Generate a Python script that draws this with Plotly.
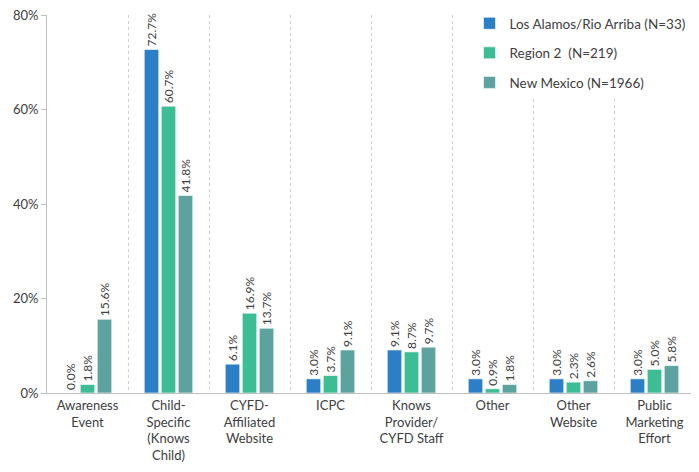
import plotly.graph_objects as go

categories = ["Awareness<br>Event", "Child-<br>Specific<br>(Knows<br>Child)", "CYFD-<br>Affiliated<br>Website",
              "ICPC", "Knows<br>Provider/<br>CYFD Staff", "Other", "Other<br>Website",
              "Public<br>Marketing<br>Effort"]
los_alamos = [0.0, 72.7, 6.1, 3.0, 9.1, 3.0, 3.0, 3.0]
region2 = [1.8, 60.7, 16.9, 3.7, 8.7, 0.9, 2.3, 5.0]
new_mexico = [15.6, 41.8, 13.7, 9.1, 9.7, 1.8, 2.6, 5.8]

series = [
    ("Los Alamos/Rio Arriba (N=33)", los_alamos, "#2a7fc7"),
    ("Region 2  (N=219)", region2, "#3dbd93"),
    ("New Mexico (N=1966)", new_mexico, "#5ca39f"),
]

fig = go.Figure()
for name, vals, color in series:
    fig.add_trace(go.Bar(
        x=categories, y=[v / 100 for v in vals], name=name, legendgroup=name,
        marker=dict(color=color, line=dict(color="rgba(255,255,255,0.6)", width=1)),
        text=[f"{v:.1f}%" for v in vals], textposition="outside",
        textangle=-90, textfont=dict(size=12, color="#404040"),
        cliponaxis=False,
    ))

# the page body has an 8px margin, so the figure is a bit smaller than the window
fig.update_layout(
    width=691, height=464,
    margin=dict(l=39, r=4, t=7, b=79, autoexpand=False),
    font=dict(family="Lato, Open Sans, sans-serif", size=13, color="#404040"),
    plot_bgcolor="white", paper_bgcolor="white",
    barmode="group", bargap=0.37, bargroupgap=0.15,
    uniformtext=dict(minsize=12, mode="show"),
    legend=dict(x=0.652, y=1.0, xanchor="left", yanchor="top", yref="container",
                bgcolor="white", font=dict(size=13.5), tracegroupgap=9,
                itemwidth=30),
)
fig.update_xaxes(
    tickson="boundaries", showgrid=True, griddash="dot", gridcolor="#cfcfcf",
    showline=True, linecolor="#bfbfbf", ticks="", tickfont=dict(size=13),
    automargin=False, ticklabeloverflow="allow",
)
fig.update_yaxes(
    range=[0, 0.8], dtick=0.2, tickformat=".0%", showgrid=False,
    showline=True, linecolor="#bfbfbf", ticks="outside", ticklen=5,
    tickcolor="#bfbfbf", tickfont=dict(size=13), zeroline=False,
    automargin=False, ticklabeloverflow="allow",
)

fig.write_html("out.html")
